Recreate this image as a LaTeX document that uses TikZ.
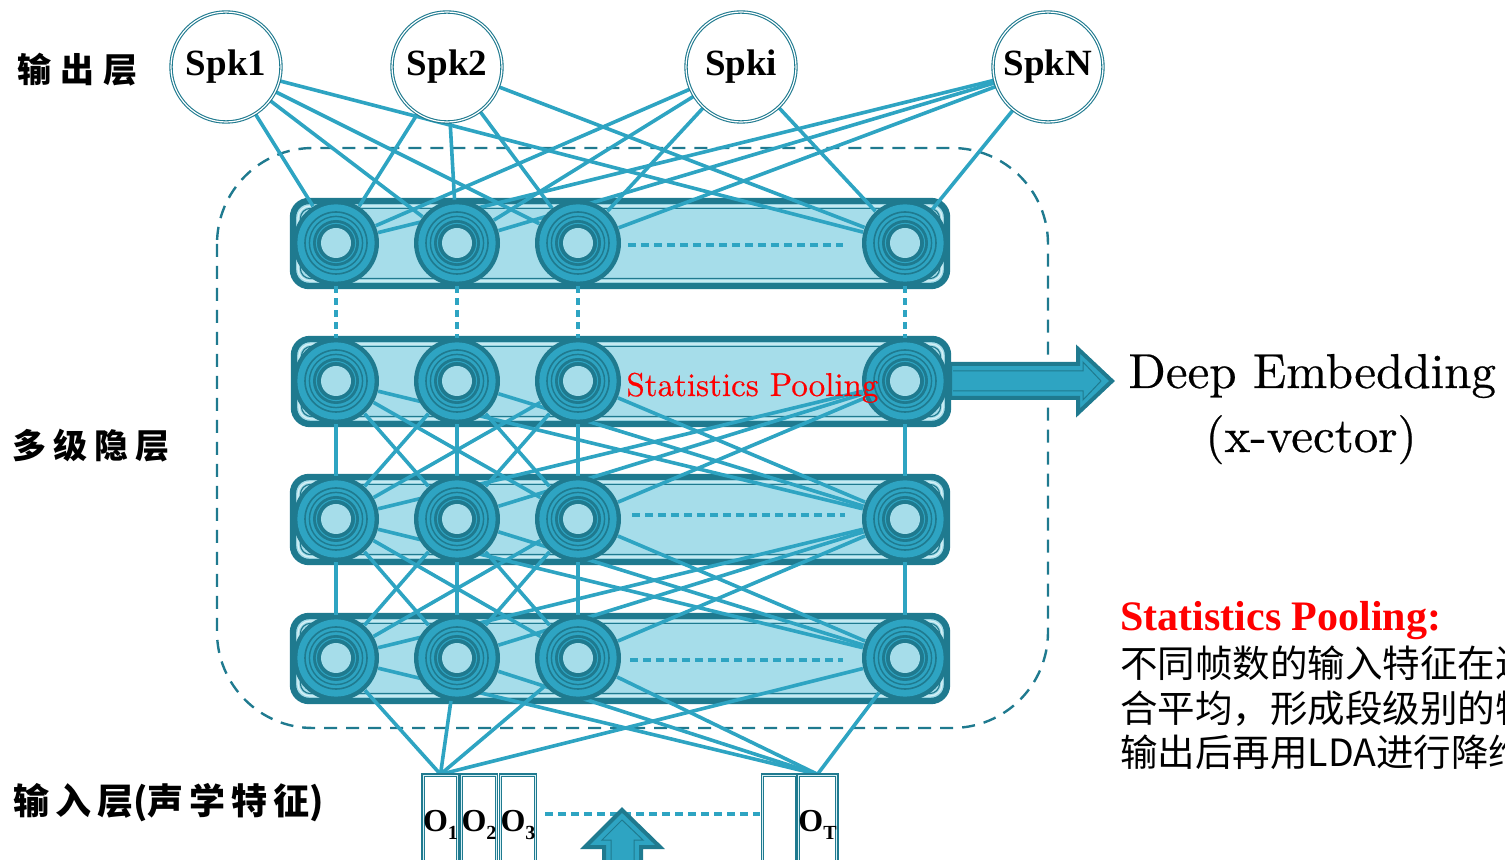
\documentclass[tikz,border=0pt]{standalone}
\usepackage{fontspec}
\newfontfamily\cjk{Noto Sans CJK SC}
\newfontfamily\tms{Liberation Serif}
\newfontfamily\heavyrm{lmroman10-regular}[Extension=.otf, FakeBold=0.5]
\definecolor{tdark}{HTML}{1F7A8F}
\definecolor{tmid}{HTML}{2EA4C2}
\definecolor{tlight}{HTML}{A6DDEA}
\definecolor{tpale}{HTML}{D8F1F6}
\pgfdeclarelayer{bg}
\pgfdeclarelayer{wires}
\pgfsetlayers{bg,wires,main}
\begin{document}
\begin{tikzpicture}[x=0.5pt,y=-0.5pt,
  neuron/.style={circle, inner sep=0pt, minimum size=43pt, fill=tdark,
    path picture={
      \fill[tmid] (path picture bounding box.center) circle[radius=19.3pt];
      \draw[tdark, line width=0.8pt] (path picture bounding box.center) circle[radius=15.5pt];
      \draw[tdark, line width=0.7pt] (path picture bounding box.center) circle[radius=13.3pt];
      \fill[tdark] (path picture bounding box.center) circle[radius=11.5pt];
      \draw[tmid, line width=0.5pt] (path picture bounding box.center) circle[radius=9.8pt];
      \fill[tlight] (path picture bounding box.center) circle[radius=7.5pt];
    }},
  bar/.style={rectangle, rounded corners=8pt, inner sep=0pt,
    minimum width=327pt, minimum height=42.5pt, fill=tlight, draw=tdark, line width=3.2pt,
    path picture={
      \draw[tpale, line width=0.6pt, rounded corners=6pt]
        ([shift={(2.5pt,-2.5pt)}]path picture bounding box.north west) rectangle
        ([shift={(-2.5pt,2.5pt)}]path picture bounding box.south east);
      \draw[tdark, line width=0.6pt, rounded corners=5pt]
        ([shift={(3.7pt,-3.7pt)}]path picture bounding box.north west) rectangle
        ([shift={(-3.7pt,3.7pt)}]path picture bounding box.south east);
    }},
  spk/.style={circle, inner sep=0pt, minimum size=55pt, fill=white, draw=tdark,
    line width=0.55pt, double=white, double distance=0.6pt,
    font=\tms\bfseries\fontsize{18.5pt}{18.5pt}\selectfont},
  inbox/.style={rectangle, inner sep=0pt, minimum width=17pt, minimum height=50pt,
    fill=white, draw=tdark, line width=0.7pt, double=tpale, double distance=0.5pt,
    font=\tms\bfseries\fontsize{16pt}{16pt}\selectfont},
  conn/.style={tmid, line width=1.8pt},
  vdash/.style={tmid, line width=1.6pt, dash pattern=on 3.5pt off 2.5pt},
  hdash/.style={tmid, line width=1.6pt, dash pattern=on 4pt off 2.5pt},
  bigarrow/.style={fill=tmid, draw=tdark, line width=2pt, line join=miter},
  inline/.style={tdark, line width=0.5pt},
  lbl/.style={anchor=west, inner sep=0pt, font=\cjk\bfseries\fontsize{17pt}{17pt}\selectfont}
]
\useasboundingbox (0,0) rectangle (1505,860);
\clip (0,0) rectangle (1505,860);

% dashed frame around the hidden layers
\begin{pgfonlayer}{bg}
  \draw[tdark, line width=1.2pt, dash pattern=on 6.5pt off 4.5pt, rounded corners=48pt]
    (217,148) rectangle (1048,728);
  \node[bar] (L1) at (620,243.5) {};
  \node[bar] (L2) at (621,381.5) {};
  \node[bar] (L3) at (620,519.5) {};
  \node[bar] (L4) at (620,658.5) {};
\end{pgfonlayer}

% output layer
\node[spk] (s1) at (226,67) {Spk1};
\node[spk] (s2) at (447,67) {Spk2};
\node[spk] (s3) at (741,67) {Spki};
\node[spk] (s4) at (1048,67) {SpkN};

% hidden neurons
\foreach \r/\y in {1/243,2/381,3/519,4/658}
  \foreach \c/\x in {1/336,2/457,3/578,4/905}
    \node[neuron] (n\r\c) at (\x,\y) {};

% input frames
\node[inbox] (o1) at (440.5,825) {O\raisebox{-4pt}{\fontsize{10pt}{10pt}\selectfont 1}};
\node[inbox] (o2) at (479,825) {O\raisebox{-4pt}{\fontsize{10pt}{10pt}\selectfont 2}};
\node[inbox] (o3) at (518,825) {O\raisebox{-4pt}{\fontsize{10pt}{10pt}\selectfont 3}};
\node[inbox] (ob) at (779.5,825) {};
\node[inbox] (oT) at (817.5,825) {O\raisebox{-4pt}{\fontsize{10pt}{10pt}\selectfont T}};

% connections
\begin{pgfonlayer}{wires}
  \foreach \s in {1,...,4}
    \foreach \c in {1,...,4}
      \draw[conn] (s\s) -- (n1\c);
  \foreach \c in {1,...,4}
    \draw[vdash] (n1\c) -- (n2\c);
  \foreach \a in {1,...,4}
    \foreach \b in {1,...,4} {
      \draw[conn] (n2\a) -- (n3\b);
      \draw[conn] (n3\a) -- (n4\b);
    }
  \foreach \a in {1,...,4} {
    \draw[conn] (n4\a) -- (o1.north);
    \draw[conn] (n4\a) -- (oT.north);
  }
\end{pgfonlayer}

% ellipsis dashes inside layers and between input frames
\coordinate (d1a) at (628,245); \coordinate (d1b) at (843,245);
\coordinate (d3a) at (632,515); \coordinate (d3b) at (845,515);
\coordinate (d4a) at (630,660); \coordinate (d4b) at (843,660);
\coordinate (ia) at (545,814);  \coordinate (ib) at (760,814);
\draw[hdash] (d1a) -- (d1b);
\draw[hdash] (d3a) -- (d3b);
\draw[hdash] (d4a) -- (d4b);
\draw[hdash] (ia) -- (ib);

\node[anchor=base west, inner sep=0pt, text=red, font=\heavyrm\fontsize{16.5pt}{16.5pt}\selectfont]
  (sp) at (626,396) {Statistics Pooling};

% embedding arrow
\draw[bigarrow] (950,364) -- (1078,364) -- (1078,349) -- (1112,381) -- (1078,413)
  -- (1078,398) -- (950,398) -- cycle;
\draw[inline] (953,371) -- (1083,371) -- (1083,362) -- (1101,381) -- (1083,400)
  -- (1083,391) -- (953,391);

% input arrow
\draw[bigarrow] (604,880) -- (604,847) -- (585,847) -- (622,810) -- (660,847)
  -- (641,847) -- (641,880) -- cycle;
\draw[inline] (611,880) -- (611,840) -- (602,840) -- (622,820) -- (643,840)
  -- (634,840) -- (634,880);

% captions
\node[lbl] (lout) at (17,70) {输\hspace{4.5pt}出\hspace{4.5pt}层};
\node[lbl] (lhid) at (12,446) {多\hspace{3.5pt}级\hspace{3.5pt}隐\hspace{3.5pt}层};
\node[lbl, font=\cjk\bfseries\fontsize{18pt}{18pt}\selectfont] (lin) at (13,803)
  {输\hspace{3pt}入\hspace{3pt}层(声\hspace{3pt}学\hspace{3pt}特\hspace{3pt}征)};

\node[anchor=base west, inner sep=0pt, font=\heavyrm\fontsize{24.5pt}{24.5pt}\selectfont]
  (emb) at (1128,388) {Deep Embedding};
\node[anchor=base, inner sep=0pt, font=\heavyrm\fontsize{24.5pt}{24.5pt}\selectfont]
  (xvec) at (1311,452) {(x-vector)};

\node[anchor=base west, inner sep=0pt, text=red, font=\tms\bfseries\fontsize{21pt}{21pt}\selectfont]
  (sph) at (1120,631) {Statistics Pooling:};
\node[anchor=base west, inner sep=0pt, font=\cjk\fontsize{18.75pt}{18.75pt}\selectfont]
  (c1) at (1120,678) {不同帧数的输入特征在进};
\node[anchor=base west, inner sep=0pt, font=\cjk\fontsize{18.75pt}{18.75pt}\selectfont]
  (c2) at (1120,722) {合平均，形成段级别的特};
\node[anchor=base west, inner sep=0pt, font=\cjk\fontsize{18.75pt}{18.75pt}\selectfont]
  (c3) at (1120,766) {输出后再用LDA进行降维};
\end{tikzpicture}
\end{document}
